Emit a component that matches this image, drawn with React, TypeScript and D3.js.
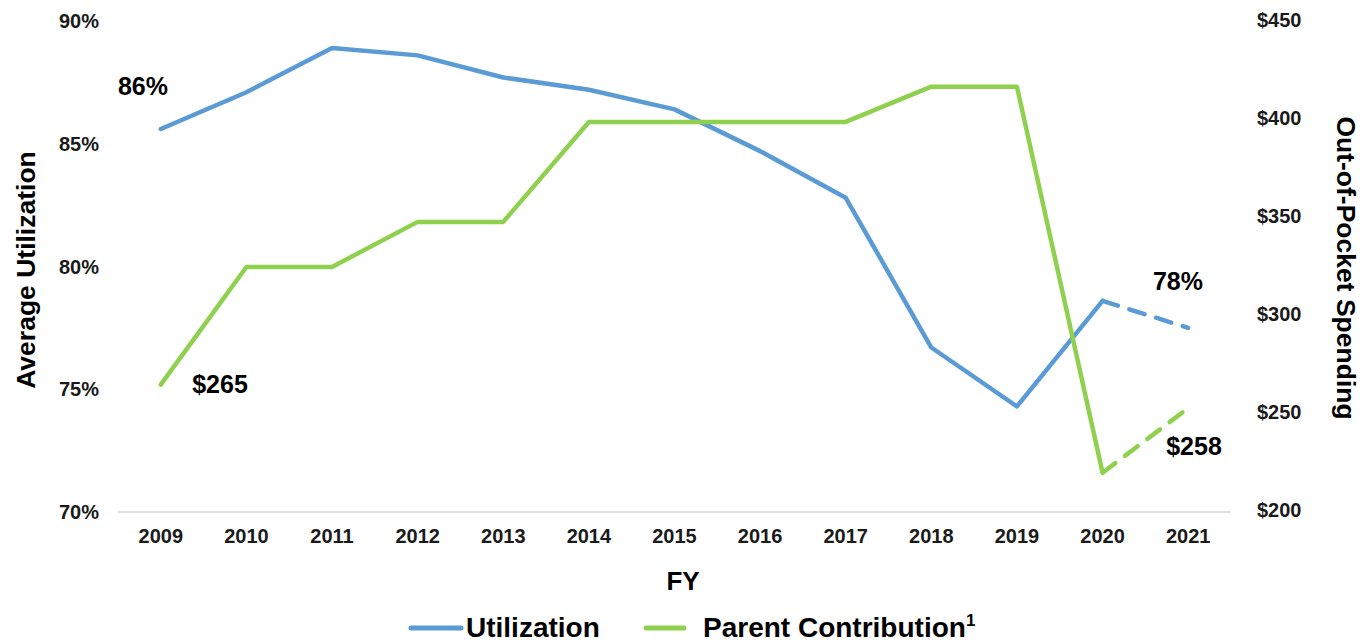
import * as d3 from "d3";
import { useRef, useEffect } from "react";

const years = ["2009", "2010", "2011", "2012", "2013", "2014", "2015", "2016", "2017", "2018", "2019", "2020", "2021"];
const utilization = [85.6, 87.1, 88.9, 88.6, 87.7, 87.2, 86.4, 84.7, 82.8, 76.7, 74.3, 78.6, 77.5];
const parentContribution = [264, 324, 324, 347, 347, 398, 398, 398, 398, 416, 416, 219, 252];
const leftTicks = [70, 75, 80, 85, 90];
const rightTicks = [200, 250, 300, 350, 400, 450];

const BLUE = "#5b9bd5";
const GREEN = "#8fd14f";
const FONT = "'Liberation Sans', Arial, sans-serif";

function App() {
  const ref = useRef<SVGSVGElement>(null);
  const width = 1363;
  const height = 644;

  useEffect(() => {
    const svg = d3.select(ref.current);
    svg.selectAll("*").remove();

    const x = d3.scaleBand().domain(years).range([118, 1231]);
    const cx = (d: string) => (x(d) as number) + x.bandwidth() / 2;
    const yL = d3.scaleLinear().domain([70, 90]).range([512, 21]);
    const yR = d3.scaleLinear().domain([200, 450]).range([510, 20]);

    // baseline
    svg.append("line")
      .attr("x1", 118).attr("x2", 1231)
      .attr("y1", yL(70)).attr("y2", yL(70))
      .attr("stroke", "#d4d4d4").attr("stroke-width", 1.5);

    // left ticks
    svg.selectAll(".lt").data(leftTicks).join("text")
      .attr("x", 99).attr("y", (d) => yL(d) + 7)
      .attr("text-anchor", "end")
      .attr("font-family", FONT).attr("font-weight", "bold").attr("font-size", 20)
      .attr("fill", "#1a1a1a")
      .text((d) => d + "%");

    // right ticks
    svg.selectAll(".rt").data(rightTicks).join("text")
      .attr("x", 1257).attr("y", (d) => yR(d) + 7)
      .attr("text-anchor", "start")
      .attr("font-family", FONT).attr("font-weight", "bold").attr("font-size", 20)
      .attr("fill", "#1a1a1a")
      .text((d) => "$" + d);

    // x ticks
    svg.selectAll(".xt").data(years).join("text")
      .attr("x", (d) => cx(d)).attr("y", 543)
      .attr("text-anchor", "middle")
      .attr("font-family", FONT).attr("font-weight", "bold").attr("font-size", 20)
      .attr("fill", "#1a1a1a")
      .text((d) => d);

    // axis titles
    svg.append("text")
      .attr("transform", `translate(35,270) rotate(-90)`)
      .attr("text-anchor", "middle")
      .attr("font-family", FONT).attr("font-weight", "bold").attr("font-size", 26.5)
      .attr("fill", "#000").text("Average Utilization");

    svg.append("text")
      .attr("transform", `translate(1337,268) rotate(90)`)
      .attr("text-anchor", "middle")
      .attr("font-family", FONT).attr("font-weight", "bold").attr("font-size", 26.5)
      .attr("fill", "#000").text("Out-of-Pocket Spending");

    svg.append("text")
      .attr("x", 683).attr("y", 590)
      .attr("text-anchor", "middle")
      .attr("font-family", FONT).attr("font-weight", "bold").attr("font-size", 26)
      .attr("fill", "#000").text("FY");

    // lines: solid through 2020, dashed 2020-2021
    const n = years.length;
    const drawSeries = (vals: number[], y: d3.ScaleLinear<number, number>, color: string) => {
      const line = d3.line<number>().x((_, i) => cx(years[i])).y((d) => y(d));
      svg.append("path")
        .attr("d", line(vals.slice(0, n - 1)))
        .attr("fill", "none").attr("stroke", color).attr("stroke-width", 4.5)
        .attr("stroke-linejoin", "round").attr("stroke-linecap", "round");
      const dashLine = d3.line<number>().x((_, i) => cx(years[n - 2 + i])).y((d) => y(d));
      svg.append("path")
        .attr("d", dashLine(vals.slice(n - 2)))
        .attr("fill", "none").attr("stroke", color).attr("stroke-width", 4.5)
        .attr("stroke-dasharray", "16,12").attr("stroke-linecap", "round");
    };
    drawSeries(utilization, yL, BLUE);
    drawSeries(parentContribution, yR, GREEN);

    // data labels
    const labels = [
      { text: "86%", x: 143, y: 95 },
      { text: "$265", x: 220, y: 393 },
      { text: "78%", x: 1178, y: 290 },
      { text: "$258", x: 1194, y: 455 },
    ];
    svg.selectAll(".dl").data(labels).join("text")
      .attr("x", (d) => d.x).attr("y", (d) => d.y)
      .attr("text-anchor", "middle")
      .attr("font-family", FONT).attr("font-weight", "bold").attr("font-size", 25)
      .attr("fill", "#000").text((d) => d.text);

    // legend
    const lg = svg.append("g");
    lg.append("line").attr("x1", 411).attr("x2", 461).attr("y1", 628).attr("y2", 628)
      .attr("stroke", BLUE).attr("stroke-width", 5).attr("stroke-linecap", "round");
    lg.append("text").attr("x", 466).attr("y", 637)
      .attr("font-family", FONT).attr("font-weight", "bold").attr("font-size", 28)
      .attr("fill", "#000").text("Utilization");
    lg.append("line").attr("x1", 646).attr("x2", 684).attr("y1", 628).attr("y2", 628)
      .attr("stroke", GREEN).attr("stroke-width", 5).attr("stroke-linecap", "round");
    const t = lg.append("text").attr("x", 703).attr("y", 637)
      .attr("font-family", FONT).attr("font-weight", "bold").attr("font-size", 28)
      .attr("fill", "#000");
    t.append("tspan").text("Parent Contribution");
    t.append("tspan").attr("font-size", 17).attr("dy", -11).text("1");
  }, []);

  return (
    <svg
      ref={ref}
      width={width}
      height={height}
      style={{ position: "absolute", left: 0, top: 0, background: "#fff" }}
    ></svg>
  );
}

export default App;
